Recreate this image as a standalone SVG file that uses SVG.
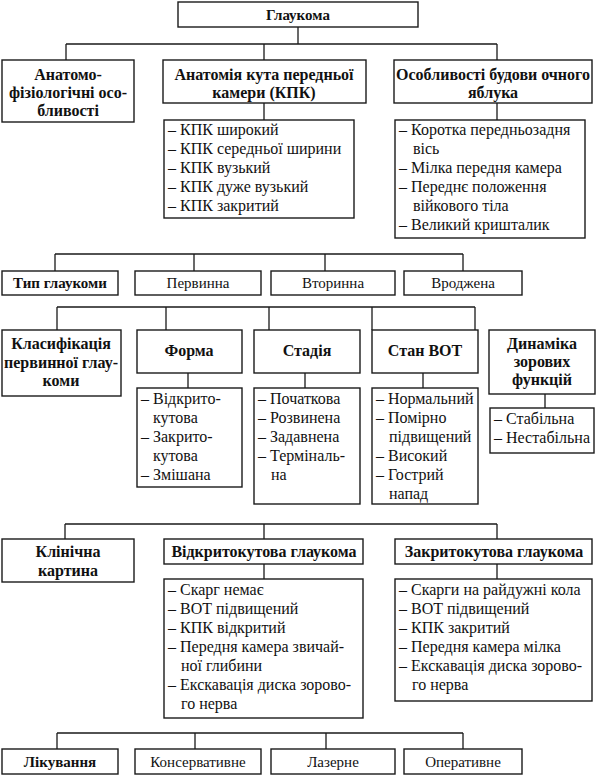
<svg xmlns="http://www.w3.org/2000/svg" width="596" height="776" viewBox="0 0 596 776" font-family="'Liberation Serif', 'Times New Roman', Tinos, 'DejaVu Serif', serif">
<style>
rect{fill:#fff;stroke:#1a1a1a;stroke-width:1.4}
.c path{fill:none;stroke:#1a1a1a;stroke-width:1.3}
text{font-family:'Liberation Serif','Times New Roman',Tinos,'DejaVu Serif',serif;font-size:16px;fill:#111}
.b{font-weight:bold}
.m{text-anchor:middle}
.s{font-size:15px}
</style>
<rect x="0" y="0" width="596" height="776" style="stroke:none"/>
<g class="c">
<path d="M298 27V44M66 44H497M66 44V60M264 44V60M497 44V60"/>
<path d="M264 103V120M497 103V120"/>
<path d="M55 254H463M55 254V271M194 254V271M325 254V271M463 254V271"/>
<path d="M57 307H475M57 307V330M166 307V330M269 307V330M372 307V330M475 307V330"/>
<path d="M188 373V388M305 373V388M423 373V388M545 394V408"/>
<path d="M65 524H497M65 524V539M264 524V539M497 524V539"/>
<path d="M264 564V579M497 564V579"/>
<path d="M57 733H463M57 733V749M195 733V749M326 733V749M463 733V749"/>
</g>
<g id="glaukoma"><rect x="178" y="2" width="240" height="25"/><text class="b m s" x="298" y="20">Глаукома</text></g>
<g id="anatomo"><rect x="2" y="60" width="132" height="62"/><text class="b m" x="68" y="80">Анатомо-</text><text class="b m" x="68" y="98">фізіологічні осо-</text><text class="b m" x="68" y="116">бливості</text></g>
<g id="kpk"><rect x="163" y="60" width="203" height="43"/><text class="b m" x="264" y="80">Анатомія кута передньої</text><text class="b m" x="264" y="98">камери (КПК)</text></g>
<g id="budova"><rect x="394" y="60" width="198" height="43"/><text class="b m" x="493" y="80">Особливості будови очного</text><text class="b m" x="493" y="98">яблука</text></g>
<g id="kpk-list"><rect x="164" y="120" width="190" height="98"/>
<text x="168" y="135">– КПК широкий</text><text x="168" y="154">– КПК середньої ширини</text><text x="168" y="173">– КПК вузький</text><text x="168" y="192">– КПК дуже вузький</text><text x="168" y="211">– КПК закритий</text></g>
<g id="budova-list"><rect x="395" y="120" width="190" height="118"/>
<text x="399" y="135">– Коротка передньозадня</text><text x="413" y="154">вісь</text><text x="399" y="173">– Мілка передня камера</text><text x="399" y="192">– Переднє положення</text><text x="413" y="211">війкового тіла</text><text x="399" y="230">– Великий кришталик</text></g>
<g id="typ"><rect x="2" y="271" width="116" height="24"/><text class="b m s" x="60" y="288">Тип глаукоми</text></g>
<g id="pervynna"><rect x="135" y="271" width="126" height="24"/><text class="m s" x="198" y="288">Первинна</text></g>
<g id="vtorynna"><rect x="271" y="271" width="124" height="24"/><text class="m s" x="333" y="288">Вторинна</text></g>
<g id="vrodzhena"><rect x="404" y="271" width="118" height="24"/><text class="m s" x="463" y="288">Вроджена</text></g>
<g id="klasyf"><rect x="2" y="330" width="119" height="66"/><text class="b m" x="61" y="349">Класифікація</text><text class="b m" x="61" y="368">первинної глау-</text><text class="b m" x="61" y="386">коми</text></g>
<g id="forma"><rect x="137" y="330" width="105" height="43"/><text class="b m" x="189" y="356">Форма</text></g>
<g id="stadia"><rect x="254" y="330" width="106" height="43"/><text class="b m" x="307" y="356">Стадія</text></g>
<g id="stan"><rect x="372" y="330" width="106" height="43"/><text class="b m" x="425" y="356">Стан ВОТ</text></g>
<g id="dynamika"><rect x="489" y="330" width="106" height="64"/><text class="b m" x="542" y="349">Динаміка</text><text class="b m" x="542" y="367">зорових</text><text class="b m" x="542" y="385">функцій</text></g>
<g id="forma-list"><rect x="137" y="388" width="105" height="99"/>
<text x="141" y="404">– Відкрито-</text><text x="153" y="423">кутова</text><text x="141" y="442">– Закрито-</text><text x="153" y="461">кутова</text><text x="141" y="480">– Змішана</text></g>
<g id="stadia-list"><rect x="254" y="388" width="106" height="116"/>
<text x="258" y="404">– Початкова</text><text x="258" y="423">– Розвинена</text><text x="258" y="442">– Задавнена</text><text x="258" y="461">– Терміналь-</text><text x="271" y="480">на</text></g>
<g id="stan-list"><rect x="372" y="388" width="106" height="116"/>
<text x="376" y="404">– Нормальний</text><text x="376" y="423">– Помірно</text><text x="389" y="442">підвищений</text><text x="376" y="461">– Високий</text><text x="376" y="480">– Гострий</text><text x="389" y="499">напад</text></g>
<g id="dynamika-list"><rect x="490" y="408" width="104" height="45"/>
<text x="494" y="424">– Стабільна</text><text x="494" y="443">– Нестабільна</text></g>
<g id="klinika"><rect x="2" y="539" width="132" height="43"/><text class="b m" x="68" y="557">Клінічна</text><text class="b m" x="68" y="576">картина</text></g>
<g id="vidkryto"><rect x="164" y="539" width="199" height="25"/><text class="b m" x="264" y="557">Відкритокутова глаукома</text></g>
<g id="zakryto"><rect x="395" y="539" width="197" height="25"/><text class="b m" x="494" y="557">Закритокутова глаукома</text></g>
<g id="vidkryto-list"><rect x="164" y="579" width="199" height="139"/>
<text x="168" y="595">– Скарг немає</text><text x="168" y="614">– ВОТ підвищений</text><text x="168" y="633">– КПК відкритий</text><text x="168" y="652">– Передня камера звичай-</text><text x="181" y="671">ної глибини</text><text x="168" y="690">– Екскавація диска зорово-</text><text x="181" y="709">го нерва</text></g>
<g id="zakryto-list"><rect x="395" y="579" width="197" height="122"/>
<text x="399" y="595">– Скарги на райдужні кола</text><text x="399" y="614">– ВОТ підвищений</text><text x="399" y="633">– КПК закритий</text><text x="399" y="652">– Передня камера мілка</text><text x="399" y="671">– Екскавація диска зорово-</text><text x="412" y="690">го нерва</text></g>
<g id="likuvannia"><rect x="2" y="749" width="116" height="25"/><text class="b m s" x="60" y="767">Лікування</text></g>
<g id="konserv"><rect x="135" y="749" width="126" height="25"/><text class="m s" x="198" y="767">Консервативне</text></g>
<g id="lazerne"><rect x="271" y="749" width="124" height="25"/><text class="m s" x="333" y="767">Лазерне</text></g>
<g id="operatyvne"><rect x="404" y="749" width="118" height="25"/><text class="m s" x="463" y="767">Оперативне</text></g>
</svg>
